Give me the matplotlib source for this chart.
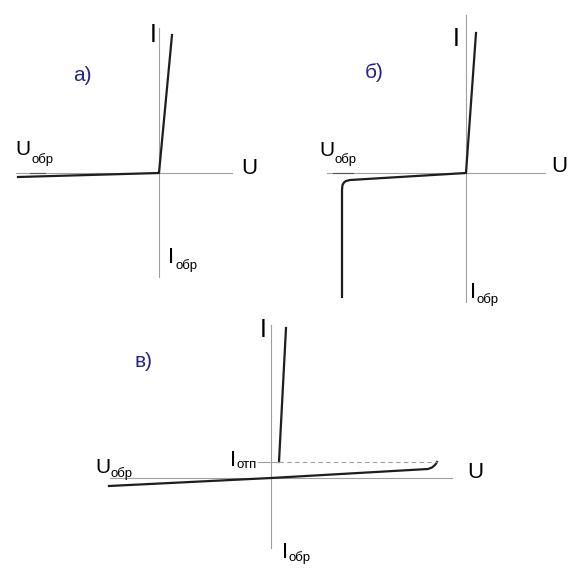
import matplotlib
matplotlib.use('Agg')
import matplotlib.pyplot as plt

plt.rcParams['font.family'] = ['Liberation Sans', 'DejaVu Sans']

W, H = 576, 578

# panel а) - ordinary diode
a_origin = (159, 173)
a_u_axis = [-143, 73]
a_i_axis = [-104, 145]
a_u = [-141, 0, 13]
a_i = [-4, 0, 138]
a_mark = [-129, -114]

# panel б) - breakdown
b_origin = (466, 173)
b_u_axis = [-139, 79]
b_i_axis = [-129, 158]
b_u = [-124, -124, -123.5, -122, -120, -116, 0, 10]
b_i = [-124, -17, -12, -9.5, -8, -7, 0, 140]
b_mark = [-133, -113]

# panel в)
c_origin = (271, 478)
c_u_axis = [-161, 181]
c_i_axis = [-70, 153]
c_u = [-162, 0, 157, 161, 164, 166]
c_i = [-8, 0, 9, 10.5, 13, 16]
c_on_u = [8, 15]
c_on_i = [16, 150]
c_hold_i = 16
c_hold_solid = [-13, 8]
c_hold_u = [8, 166]

axis_col = '#a0a0a0'
line_col = '#1e1e1e'
blue = '#23238a'

fig = plt.figure(figsize=(W / 100, H / 100), dpi=100)


def panel(origin, u_axis, i_axis):
    ox, oy = origin
    ax = fig.add_axes([0, 0, 1, 1])
    ax.set_xlim(-ox, W - ox)
    ax.set_ylim(-(H - oy), oy)
    ax.axis('off')
    ax.patch.set_alpha(0)
    ax.plot(u_axis, [0, 0], color=axis_col, lw=0.8)
    ax.plot([0, 0], i_axis, color=axis_col, lw=0.8)
    return ax


def sublabel(ax, x, y, main, sub, size, dy):
    t = ax.text(x, y, main, fontsize=size, ha='left', va='baseline')
    # subscript starts right after the main letter
    ax.annotate(sub, xy=(1, y - dy), xycoords=(t, 'data'),
                xytext=(0.3, 0), textcoords='offset points',
                fontsize=9.5, ha='left', va='baseline')


def axis_labels(ax, i_pos, u_pos, tag, tag_pos):
    ax.text(*i_pos, 'I', fontsize=18, ha='left', va='baseline')
    ax.text(*u_pos, 'U', fontsize=16, ha='left', va='baseline')
    ax.text(*tag_pos, tag, fontsize=15, color=blue, ha='left', va='baseline')


# а)
ax = panel(a_origin, a_u_axis, a_i_axis)
ax.plot(a_mark, [0, 0], color='#555555', lw=0.8)
ax.plot(a_u, a_i, color=line_col, lw=1.6, solid_joinstyle='round')
axis_labels(ax, (-9, 131), (82, -1), 'а)', (-86, 92))
sublabel(ax, -143.5, 18, 'U', 'обр', 15, 8)
sublabel(ax, 9.5, -90, 'I', 'обр', 16, 6)

# б)
ax = panel(b_origin, b_u_axis, b_i_axis)
ax.plot(b_mark, [0, 0], color='#555555', lw=0.8)
ax.plot(b_u, b_i, color=line_col, lw=1.6, solid_joinstyle='round')
axis_labels(ax, (-13.5, 127), (85.5, 1), 'б)', (-101, 95))
sublabel(ax, -147, 16.5, 'U', 'обр', 15, 7)
sublabel(ax, 4, -125, 'I', 'обр', 16, 5)

# в)
ax = panel(c_origin, c_u_axis, c_i_axis)
ax.plot(c_u, c_i, color=line_col, lw=1.6, solid_joinstyle='round')
ax.plot(c_on_u, c_on_i, color=line_col, lw=1.6)
ax.plot(c_hold_solid, [c_hold_i, c_hold_i], color=axis_col, lw=0.8)
ax.plot(c_hold_u, [c_hold_i, c_hold_i], color=axis_col, lw=0.8, ls=(0, (4, 3)))
axis_labels(ax, (-11, 141), (196, 0), 'в)', (-136, 111))
sublabel(ax, -176, 5, 'U', 'обр', 15, 4)
sublabel(ax, -41, 12, 'I', 'отп', 16, 2.5)
sublabel(ax, 10.5, -80, 'I', 'обр', 16, 3.5)

fig.savefig('out.png', dpi=100)
